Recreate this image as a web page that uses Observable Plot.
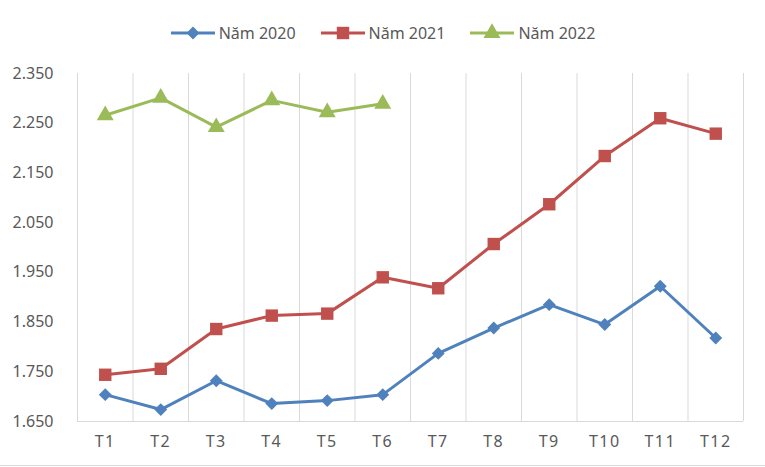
<!DOCTYPE html>
<html>
<head>
<meta charset="utf-8">
<script src="https://cdn.jsdelivr.net/npm/d3@7"></script>
<script src="https://cdn.jsdelivr.net/npm/@observablehq/plot@0.6"></script>
<style>
  html, body { margin: 0; padding: 0; background: #fff; }
  #chart { width: 765px; height: 467px; position: relative; overflow: hidden; font-family: "Noto Sans", sans-serif; }
  #legend { height: 55px; display: flex; justify-content: center; align-items: flex-start; padding-top: 0; box-sizing: border-box; }
  .item { display: flex; align-items: center; margin: 0 12px; height: 22px; margin-top: 22px; font-size: 16px; color: #595959; }
  .item svg { margin-right: 3px; }
  #bottomline { position: absolute; left: 0; top: 465px; width: 765px; height: 1px; background: #d9d9d9; }
  g[aria-label="x-axis tick label"] text { letter-spacing: 1.5px; }
</style>
</head>
<body>
<div id="chart">
  <div id="legend"></div>
  <div id="plot"></div>
  <div id="bottomline"></div>
</div>
<script>
const months = ["T1","T2","T3","T4","T5","T6","T7","T8","T9","T10","T11","T12"];
const seriesNames = ["Năm 2020", "Năm 2021", "Năm 2022"];
const colors = ["#4F81BD", "#C0504D", "#9BBB59"];
const symbols = ["diamond2", "square", "triangle"];
const sizes = [5.8, 7, 6.3];
const values2020 = [1704, 1674, 1732, 1686, 1692, 1704, 1787, 1838, 1885, 1845, 1922, 1818];
const values2021 = [1744, 1756, 1836, 1863, 1867, 1940, 1918, 2007, 2087, 2184, 2260, 2229];
const values2022 = [2266, 2301, 2242, 2296, 2272, 2289];
const yTicks = [1650, 1750, 1850, 1950, 2050, 2150, 2250, 2350];

const allValues = [values2020, values2021, values2022];
const data = [];
allValues.forEach((vals, s) => vals.forEach((v, i) => data.push({series: seriesNames[s], idx: i + 1, month: months[i], value: v})));
const boundaries = months.map((m, i) => i + 0.5).concat([months.length + 0.5]);
const fmt = d => d3.format(",")(d).replace(/,/g, ".");

// Legend
const legend = document.getElementById("legend");
seriesNames.forEach((name, s) => {
  const item = document.createElement("div");
  item.className = "item";
  const sym = d3.symbol(d3[{"diamond2":"symbolDiamond2","square":"symbolSquare","triangle":"symbolTriangle"}[symbols[s]]], Math.PI * sizes[s] * sizes[s])();
  item.innerHTML = `<svg width="46" height="20"><line x1="1" x2="45" y1="10" y2="10" stroke="${colors[s]}" stroke-width="3"/><path transform="translate(23,10)" d="${sym}" fill="${colors[s]}"/></svg><span>${name}</span>`;
  legend.appendChild(item);
});

const marks = [
  Plot.ruleX(boundaries, {x: d => d, y1: yTicks[0], y2: yTicks[yTicks.length - 1], stroke: "#d9d9d9", strokeWidth: 1}),
  Plot.ruleY([yTicks[0]], {stroke: "#d9d9d9", strokeWidth: 1}),
  Plot.axisY({ticks: yTicks, tickFormat: fmt, tickSize: 0, tickPadding: 24, fontSize: 16, fill: "#595959"}),
  Plot.axisX({ticks: months.map((m, i) => i + 1), tickFormat: d => months[d - 1], tickSize: 0, tickPadding: 14, fontSize: 16, fill: "#595959"})
];
seriesNames.forEach((name, s) => {
  const d = data.filter(r => r.series === name);
  marks.push(Plot.line(d, {x: "idx", y: "value", stroke: colors[s], strokeWidth: 3}));
  marks.push(Plot.dot(d, {x: "idx", y: "value", symbol: () => symbols[s], r: sizes[s], fill: colors[s], stroke: "none"}));
});

const chart = Plot.plot({
  width: 765,
  height: 410,
  marginTop: 18,
  marginBottom: 44,
  marginLeft: 77,
  marginRight: 22,
  style: {fontFamily: "Noto Sans, sans-serif", fontSize: "16px", color: "#595959", background: "transparent"},
  x: {type: "linear", domain: [0.5, months.length + 0.5], label: null},
  y: {domain: [yTicks[0], yTicks[yTicks.length - 1]], label: null},
  symbol: {type: "identity"},
  marks
});
document.getElementById("plot").appendChild(chart);
</script>
</body>
</html>
